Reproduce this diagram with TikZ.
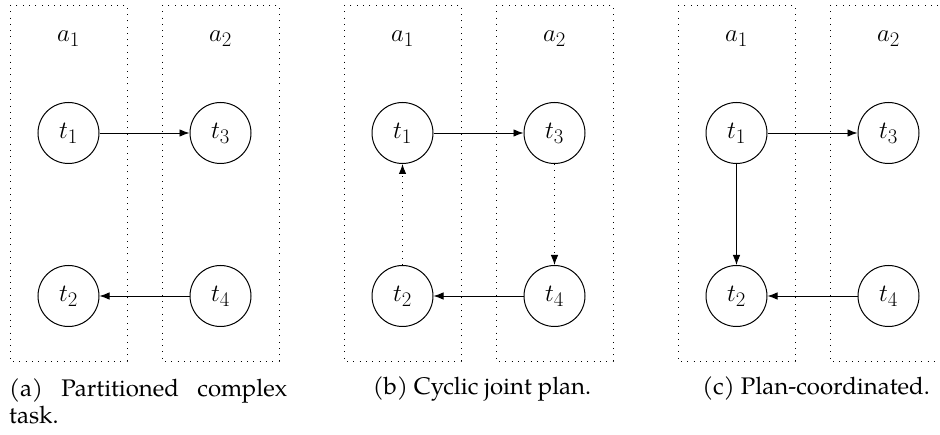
\documentclass[tikz,border=0pt]{standalone}
\usepackage{fontspec}
\usetikzlibrary{arrows.meta}

\newfontfamily\pagella{TeX Gyre Pagella}
\newcommand\capfont{\pagella\fontsize{24}{27.5}\selectfont}
\newcommand\mathsz{\fontsize{32}{37}\selectfont}

\tikzset{
  agentbox/.style={draw, line width=0.9pt, dash pattern=on 1pt off 5.3pt},
  task/.style={circle, draw, line width=1pt, minimum size=61pt, inner sep=0pt, font=\mathsz},
  agentlabel/.style={inner sep=0pt, font=\mathsz},
  flow/.style={line width=0.9pt, -{Latex[length=10pt,width=7.5pt]}},
  cyc/.style={line width=0.9pt, dash pattern=on 1pt off 5.3pt, -{Latex[length=10pt,width=7.5pt]}},
  caption/.style={inner sep=0pt, font=\capfont},
}

% one panel: two agent columns, four task nodes named <prefix>1..4
\newcommand\agentpanel[2]{%
  \begin{scope}[xshift=#2]
    \draw[agentbox] (10,5) rectangle (127,361);
    \draw[agentbox] (162,5) rectangle (279,361);
    \node[agentlabel] (#1a1) at (68.5,39) {$a_1$};
    \node[agentlabel] (#1a2) at (220.5,39) {$a_2$};
    \node[task] (#11) at (68.5,133) {$t_1$};
    \node[task] (#12) at (68.5,296) {$t_2$};
    \node[task] (#13) at (220.5,133) {$t_3$};
    \node[task] (#14) at (220.5,296) {$t_4$};
  \end{scope}}

\begin{document}
\begin{tikzpicture}[x=1pt,y=-1pt]
  \useasboundingbox (0,0) rectangle (940,435);

  % (a) partitioned task
  \agentpanel{pa}{0pt}
  \draw[flow] (pa1) -- (pa3);
  \draw[flow] (pa4) -- (pa2);
  \node[caption, anchor=north west, text width=278pt, align=left] (capa) at (9,378)
    {(a)\hfill Partitioned\hfill complex\\task.};

  % (b) cyclic joint plan
  \agentpanel{pb}{334pt}
  \draw[flow] (pb1) -- (pb3);
  \draw[cyc]  (pb3) -- (pb4);
  \draw[flow] (pb4) -- (pb2);
  \draw[cyc]  (pb2) -- (pb1);
  \node[caption, anchor=base] (capb) at (482,395) {(b) Cyclic joint plan.};

  % (c) plan-coordinated
  \agentpanel{pc}{668pt}
  \draw[flow] (pc1) -- (pc3);
  \draw[flow] (pc1) -- (pc2);
  \draw[flow] (pc4) -- (pc2);
  \node[caption, anchor=base] (capc) at (816,395) {(c) Plan-coordinated.};
\end{tikzpicture}
\end{document}
